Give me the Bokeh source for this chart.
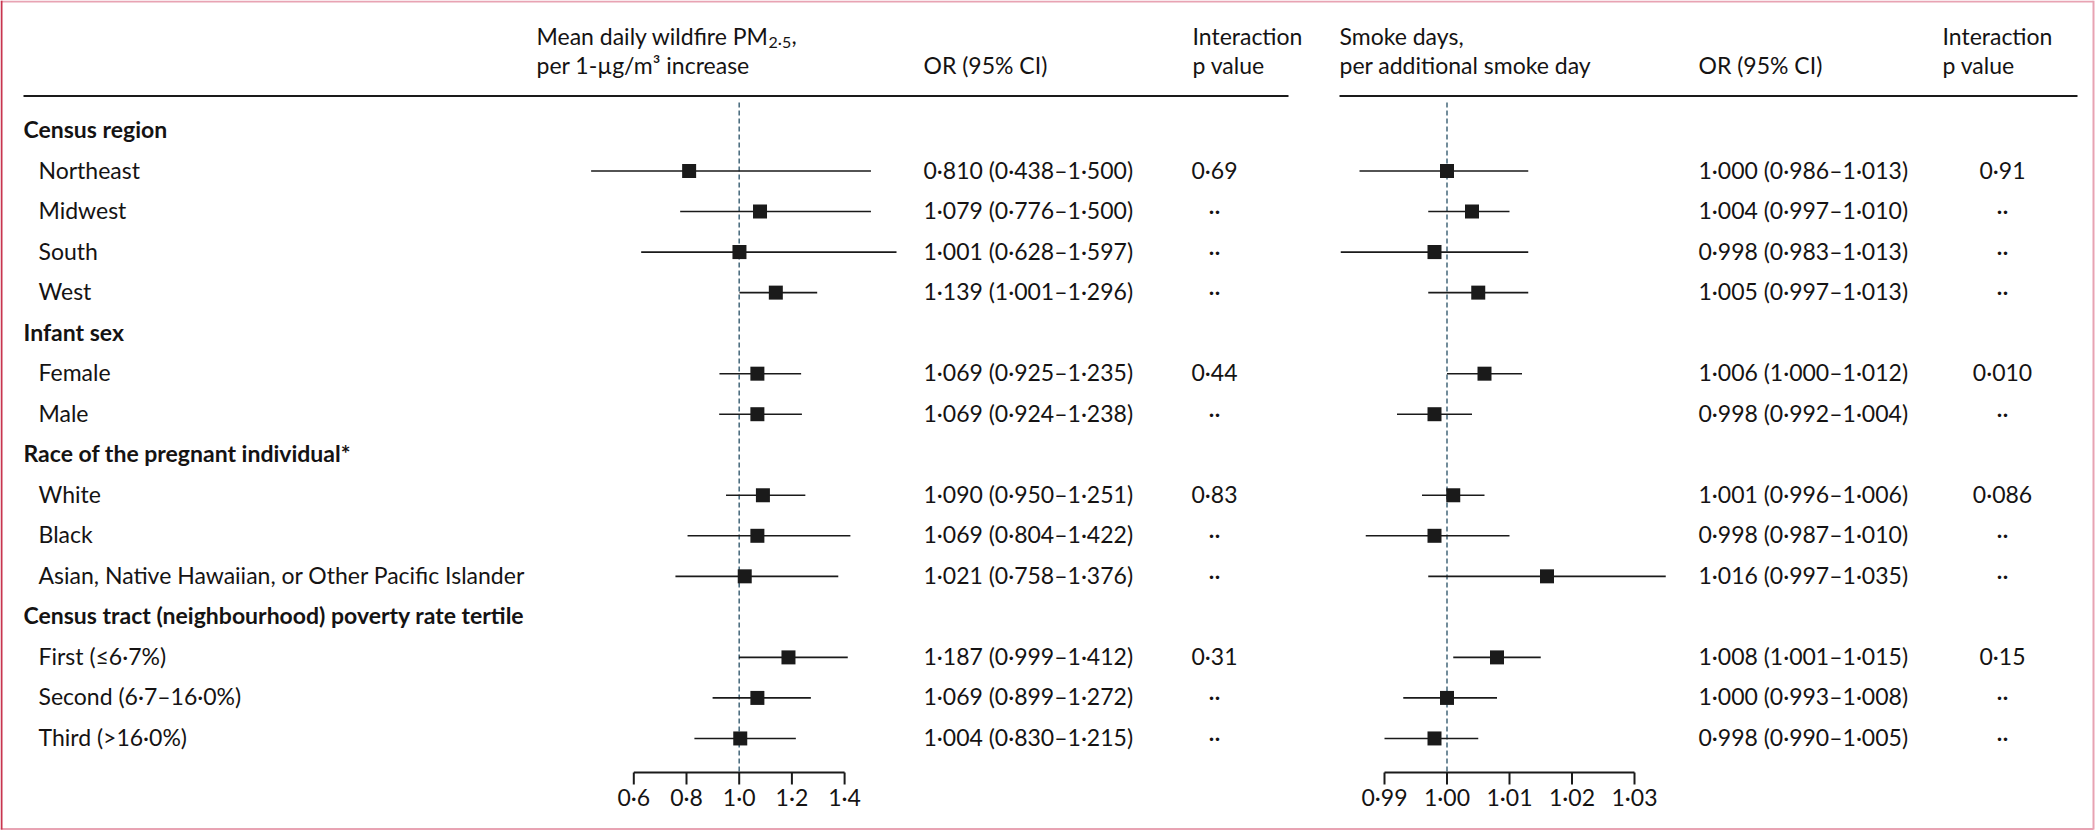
from bokeh.plotting import figure
from bokeh.models import Range1d
from bokeh.embed import file_html
from bokeh.resources import INLINE
from bokeh.core.properties import value

# ---------------- data ----------------
row_labels = [
    "Census region", "Northeast", "Midwest", "South", "West",
    "Infant sex", "Female", "Male",
    "Race of the pregnant individual*", "White", "Black",
    "Asian, Native Hawaiian, or Other Pacific Islander",
    "Census tract (neighbourhood) poverty rate tertile",
    "First (≤6·7%)", "Second (6·7–16·0%)", "Third (>16·0%)",
]
is_heading = [True, False, False, False, False, True, False, False,
              True, False, False, False, True, False, False, False]

# rows (index into row_labels) that carry an estimate
subgroup_rows = [1, 2, 3, 4, 6, 7, 9, 10, 11, 13, 14, 15]

# Mean daily wildfire PM2.5, per 1-ug/m3 increase
pm_or = [0.810, 1.079, 1.001, 1.139, 1.069, 1.069, 1.090, 1.069, 1.021, 1.187, 1.069, 1.004]
pm_lo = [0.438, 0.776, 0.628, 1.001, 0.925, 0.924, 0.950, 0.804, 0.758, 0.999, 0.899, 0.830]
pm_hi = [1.500, 1.500, 1.597, 1.296, 1.235, 1.238, 1.251, 1.422, 1.376, 1.412, 1.272, 1.215]
pm_p = ["0·69", "··", "··", "··", "0·44", "··", "0·83", "··", "··", "0·31", "··", "··"]

# Smoke days, per additional smoke day
sd_or = [1.000, 1.004, 0.998, 1.005, 1.006, 0.998, 1.001, 0.998, 1.016, 1.008, 1.000, 0.998]
sd_lo = [0.986, 0.997, 0.983, 0.997, 1.000, 0.992, 0.996, 0.987, 0.997, 1.001, 0.993, 0.990]
sd_hi = [1.013, 1.010, 1.013, 1.013, 1.012, 1.004, 1.006, 1.010, 1.035, 1.015, 1.008, 1.005]
sd_p = ["0·91", "··", "··", "··", "0·010", "··", "0·086", "··", "··", "0·15", "··", "··"]

pm_ticks = [0.6, 0.8, 1.0, 1.2, 1.4]
pm_tick_labels = ["0·6", "0·8", "1·0", "1·2", "1·4"]
sd_ticks = [0.99, 1.00, 1.01, 1.02, 1.03]
sd_tick_labels = ["0·99", "1·00", "1·01", "1·02", "1·03"]
null_value = 1.0


def fmt_ci(o, lo, hi):
    return f"{o:.3f} ({lo:.3f}–{hi:.3f})".replace(".", "·")


pm_text = [fmt_ci(a, b, c) for a, b, c in zip(pm_or, pm_lo, pm_hi)]
sd_text = [fmt_ci(a, b, c) for a, b, c in zip(sd_or, sd_lo, sd_hi)]

# ---------------- layout ----------------
W, H = 2100, 831
ROW0_PX, ROW_PX = 130.0, 40.53
SHIFT = 9.0   # text baseline correction (px)


def ry(px):
    return (px - ROW0_PX) / ROW_PX


def ty(px):
    return ry(px - SHIFT)


L_ZERO, L_SCALE = 738.7, 263.5      # pixel of OR=1, px per unit
R_ZERO, R_SCALE = 1446.5, 6250.0

FONT = value("Lato")
FS = "23px"
FS_LAB = "23px"
TXT = "#151313"
BASE = (7.5 - SHIFT) / ROW_PX   # baseline offset below row centre

p = figure(width=W, height=H, x_range=Range1d(0, W),
           y_range=Range1d(start=ry(H), end=ry(0)),
           min_border=0, toolbar_location=None, output_backend="svg",
           x_axis_type=None, y_axis_type=None, outline_line_color=None,
           background_fill_color="white", border_fill_color="white")
p.extra_x_ranges = {
    "L": Range1d(start=1 - L_ZERO / L_SCALE, end=1 + (W - L_ZERO) / L_SCALE),
    "R": Range1d(start=1 - R_ZERO / R_SCALE, end=1 + (W - R_ZERO) / R_SCALE),
}

# border
p.segment(x0=[0, 2093, 0], y0=[ry(1), ry(0), ry(828.5)],
          x1=[2093, 2093, 2093], y1=[ry(1), ry(829), ry(828.5)],
          line_color="#e8a3b3", line_width=2)
p.segment(x0=[1], y0=[ry(0)], x1=[1], y1=[ry(829)], line_color="#c8354f", line_width=2)

# header rules
p.segment(x0=[23, 1339], x1=[1288, 2077], y0=[ry(95.5)] * 2, y1=[ry(95.5)] * 2,
          line_color="#1a1a1a", line_width=2)

# header texts
hdr_x = [536, 923, 1192, 1339, 1698, 1942, 1942, 1192]
hdr_y = [44, 73.5, 44, 44, 73.5, 44, 73.5, 73.5]
hdr_t = ["Mean daily wildfire PM", "OR (95% CI)", "Interaction", "Smoke days,",
         "OR (95% CI)", "Interaction", "p value", "p value"]
p.text(x=hdr_x, y=[ty(v) for v in hdr_y], text=hdr_t, text_font=FONT,
       text_font_size=FS, text_color=TXT, text_baseline="alphabetic")
p.text(x=[536, 1339], y=[ty(73.5)] * 2, text=["per 1-µg/m³ increase", "per additional smoke day"],
       text_font=FONT, text_font_size=FS, text_color=TXT, text_baseline="alphabetic")
p.text(x=[768], y=[ty(50)], text=["2·5"], text_font=FONT, text_font_size="16px",
       text_color=TXT, text_baseline="alphabetic")
p.text(x=[791], y=[ty(44)], text=[","], text_font=FONT, text_font_size=FS,
       text_color=TXT, text_baseline="alphabetic")

# row labels
head_idx = [i for i, h in enumerate(is_heading) if h]
item_idx = [i for i, h in enumerate(is_heading) if not h]
p.text(x=[23] * len(head_idx), y=[i + BASE for i in head_idx],
       text=[row_labels[i] for i in head_idx], text_font=FONT, text_font_size=FS_LAB,
       text_font_style="bold", text_color=TXT, text_baseline="alphabetic")
p.text(x=[38] * len(item_idx), y=[i + BASE for i in item_idx],
       text=[row_labels[i] for i in item_idx], text_font=FONT, text_font_size=FS_LAB,
       text_color=TXT, text_baseline="alphabetic")

ys = [r + BASE for r in subgroup_rows]
# estimate columns
p.text(x=[923] * len(ys), y=ys, text=pm_text, text_font=FONT, text_font_size=FS,
       text_color=TXT, text_baseline="alphabetic")
p.text(x=[1214] * len(ys), y=ys, text=pm_p, text_font=FONT, text_font_size=FS,
       text_color=TXT, text_baseline="alphabetic", text_align="center")
p.text(x=[1698] * len(ys), y=ys, text=sd_text, text_font=FONT, text_font_size=FS,
       text_color=TXT, text_baseline="alphabetic")
p.text(x=[2002] * len(ys), y=ys, text=sd_p, text_font=FONT, text_font_size=FS,
       text_color=TXT, text_baseline="alphabetic", text_align="center")

DASH = "#4f7082"
AX_Y, TICK_Y, LAB_Y = ry(772), ry(784), ty(805)
for name, o, lo, hi, ticks, tl in (("L", pm_or, pm_lo, pm_hi, pm_ticks, pm_tick_labels),
                                   ("R", sd_or, sd_lo, sd_hi, sd_ticks, sd_tick_labels)):
    # null line
    p.segment(x0=[null_value], x1=[null_value], y0=[ry(102)], y1=[AX_Y],
              line_color=DASH, line_width=1.6, line_dash="5 3", x_range_name=name)
    # CIs and points
    p.segment(x0=lo, x1=hi, y0=subgroup_rows, y1=subgroup_rows, line_color="#1a1a1a",
              line_width=1.6, x_range_name=name)
    p.scatter(x=o, y=subgroup_rows, marker="square", size=14, fill_color="#1a1a1a",
              line_color="#1a1a1a", line_width=0, x_range_name=name)
    # axis
    p.segment(x0=[ticks[0]], x1=[ticks[-1]], y0=[AX_Y], y1=[AX_Y], line_color="#1a1a1a",
              line_width=2, x_range_name=name)
    p.segment(x0=ticks, x1=ticks, y0=[AX_Y] * len(ticks), y1=[TICK_Y] * len(ticks),
              line_color="#1a1a1a", line_width=2, x_range_name=name)
    p.text(x=ticks, y=[LAB_Y] * len(ticks), text=tl, text_font=FONT, text_font_size=FS,
           text_color=TXT, text_baseline="alphabetic", text_align="center", x_range_name=name)

open("out.html", "w").write(file_html(p, INLINE))
